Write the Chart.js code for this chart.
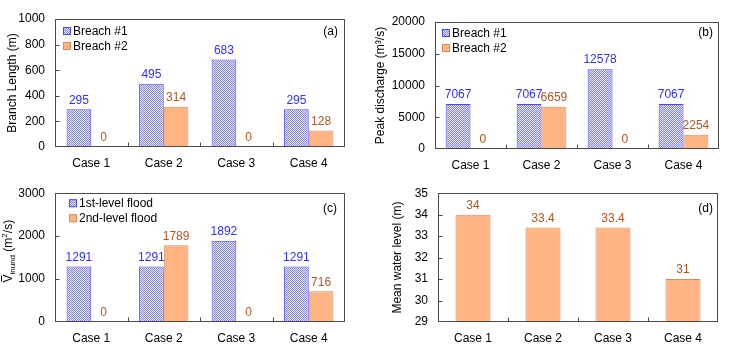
<!DOCTYPE html>
<html><head><meta charset="utf-8">
<script src="https://cdn.jsdelivr.net/npm/chart.js@4.4.0/dist/chart.umd.min.js"></script>
<style>
html,body{margin:0;padding:0;background:#fff;width:730px;height:352px;overflow:hidden}
.p{position:absolute;width:365px;height:176px}
canvas{display:block}
</style></head><body>
<div class="p" style="left:0;top:0"><canvas id="ca" width="365" height="176"></canvas></div>
<div class="p" style="left:365px;top:0"><canvas id="cb" width="365" height="176"></canvas></div>
<div class="p" style="left:0;top:176px"><canvas id="cc" width="365" height="176"></canvas></div>
<div class="p" style="left:365px;top:176px"><canvas id="cd" width="365" height="176"></canvas></div>
<script>
// ---- data ----
const cases = ['Case 1', 'Case 2', 'Case 3', 'Case 4'];
const branchBreach1 = [295, 495, 683, 295];
const branchBreach2 = [0, 314, 0, 128];
const peakBreach1 = [7067, 7067, 12578, 7067];
const peakBreach2 = [0, 6659, 0, 2254];
const flood1st = [1291, 1291, 1892, 1291];
const flood2nd = [0, 1789, 0, 716];
const meanWaterLevel = [34, 33.4, 33.4, 31];
const ticksA = [0, 200, 400, 600, 800, 1000];
const ticksB = [0, 5000, 10000, 15000, 20000];
const ticksC = [0, 1000, 2000, 3000];
const ticksD = [29, 30, 31, 32, 33, 34, 35];
const seriesNamesAB = ['Breach #1', 'Breach #2'];
const seriesNamesC = ['1st-level flood', '2nd-level flood'];

Chart.defaults.font.family = '"Liberation Sans", Arial, sans-serif';
Chart.defaults.font.size = 12;
Chart.defaults.color = '#000';

const BLUE_TXT = '#2f2fff', BROWN_TXT = '#b0561f';
const ORANGE = '#ffb482', ORANGE_BORDER = '#d98b5f', BLUE_BORDER = '#4646ff';
function makePattern() {
  const c = document.createElement('canvas'); c.width = 2; c.height = 2;
  const g = c.getContext('2d');
  g.fillStyle = '#e6e6ff'; g.fillRect(0, 0, 2, 2);
  g.fillStyle = '#8484f0'; g.fillRect(0, 0, 1, 1); g.fillRect(1, 1, 1, 1);
  return g.createPattern(c, 'repeat');
}
const HATCH = makePattern();

const deco = {
  id: 'deco',
  afterDatasetsDraw(chart, args, o) {
    const ctx = chart.ctx, a = chart.chartArea;
    const ys = chart.scales.y, xs = chart.scales.x;
    ctx.save();
    // value labels
    ctx.font = '12px "Liberation Sans", Arial, sans-serif';
    ctx.textAlign = 'center'; ctx.textBaseline = 'middle';
    chart.data.datasets.forEach((ds, di) => {
      const meta = chart.getDatasetMeta(di);
      meta.data.forEach((bar, i) => {
        ctx.fillStyle = o.valueColors[di];
        ctx.fillText(String(ds.data[i]), bar.x, bar.y - 9);
      });
    });
    // frame
    ctx.strokeStyle = '#4a4a4a'; ctx.lineWidth = 1;
    const L = Math.round(a.left) + 0.5, R = Math.round(a.right) - 0.5, T = Math.round(a.top) + 0.5, B = Math.round(a.bottom) - 0.5;
    ctx.strokeRect(L, T, R - L, B - T);
    ctx.beginPath();
    o.yTicks.forEach(v => {
      const y = Math.round(ys.getPixelForValue(v)) + 0.5;
      ctx.moveTo(L, y); ctx.lineTo(L + 4, y);
    });
    for (let i = 1; i < chart.data.labels.length; i++) {
      const x = Math.round((xs.getPixelForValue(i - 1) + xs.getPixelForValue(i)) / 2) + 0.5;
      ctx.moveTo(x, B); ctx.lineTo(x, B - 4);
    }
    ctx.stroke();
    // panel label
    ctx.fillStyle = '#000'; ctx.textAlign = 'right';
    ctx.fillText(o.tag, a.right - o.tagDx, a.top + o.tagDy);
    // legend
    if (o.legend) {
      ctx.textAlign = 'left';
      o.legend.forEach((it, k) => {
        const cy = a.top + o.legDy + k * 15;
        const bx = a.left + o.legDx;
        ctx.fillStyle = it.fill; ctx.fillRect(bx, cy - 4, 8, 8);
        ctx.strokeStyle = it.border; ctx.strokeRect(bx + 0.5, cy - 3.5, 7, 7);
        ctx.fillStyle = '#000';
        ctx.fillText(it.text, bx + 10, cy + 0.5);
      });
    }
    // custom y title
    if (o.customTitle) {
      ctx.save();
      ctx.translate(o.customTitle.x, a.top + o.customTitle.cy);
      ctx.rotate(-Math.PI / 2);
      ctx.textAlign = 'left'; ctx.textBaseline = 'middle'; ctx.fillStyle = '#000';
      const big = '12px "Liberation Sans", Arial, sans-serif', small = '8px "Liberation Sans", Arial, sans-serif';
      const parts = [['V', big, 0], ['inund', small, 4], [' (m', big, 0], ['2', small, -4], ['/s)', big, 0]];
      let total = 0;
      parts.forEach(p => { ctx.font = p[1]; total += ctx.measureText(p[0]).width; });
      let x = -total / 2;
      parts.forEach((p, idx) => {
        ctx.font = p[1];
        ctx.fillText(p[0], x, p[2]);
        const w = ctx.measureText(p[0]).width;
        if (idx === 0) {
          ctx.strokeStyle = '#000'; ctx.lineWidth = 1;
          ctx.beginPath(); ctx.moveTo(x + 1, -7.5); ctx.lineTo(x + w - 1, -7.5); ctx.stroke();
        }
        x += w;
      });
      ctx.restore();
    }
    ctx.restore();
  }
};

function makeChart(id, cfg) {
  const datasets = cfg.series.map(s => ({
    label: s.label, data: s.data,
    backgroundColor: s.kind === 'blue' ? HATCH : ORANGE,
    borderColor: s.kind === 'blue' ? BLUE_BORDER : ORANGE_BORDER,
    borderWidth: 1,
    categoryPercentage: cfg.catPct, barPercentage: 1
  }));
  return new Chart(document.getElementById(id), {
    type: 'bar',
    data: { labels: cases, datasets },
    plugins: [deco],
    options: {
      responsive: false, animation: false, devicePixelRatio: 1,
      layout: { padding: { left: 0, right: cfg.R, top: cfg.T, bottom: 0 } },
      plugins: {
        legend: { display: false }, tooltip: { enabled: false },
        deco: cfg.deco
      },
      scales: {
        x: {
          grid: { display: false, drawTicks: false }, border: { display: false },
          ticks: { padding: 9, color: '#000', font: { size: 12 } },
          afterFit(s) { s.height = cfg.xH; }
        },
        y: {
          min: cfg.ticks[0], max: cfg.ticks[cfg.ticks.length - 1],
          grid: { display: false, drawTicks: false }, border: { display: false },
          ticks: { stepSize: cfg.ticks[1] - cfg.ticks[0], padding: 10, color: '#000', font: { size: 12 },
            callback: v => String(v) },
          title: cfg.title ? { display: true, text: cfg.title, color: '#000', font: { size: 12 }, padding: { top: cfg.titlePad, bottom: 0 } } : { display: false },
          afterFit(s) { s.width = cfg.L; }
        }
      }
    }
  });
}

makeChart('ca', {
  series: [{ label: seriesNamesAB[0], data: branchBreach1, kind: 'blue' }, { label: seriesNamesAB[1], data: branchBreach2, kind: 'orange' }],
  catPct: 0.68, L: 55, R: 20, T: 19, xH: 29, ticks: ticksA, title: 'Branch Length (m)', titlePad: 5,
  deco: { valueColors: [BLUE_TXT, BROWN_TXT], yTicks: ticksA.slice(1, -1), tag: '(a)', tagDx: 7, tagDy: 13,
    legend: [{ text: seriesNamesAB[0], fill: HATCH, border: BLUE_BORDER }, { text: seriesNamesAB[1], fill: ORANGE, border: ORANGE_BORDER }], legDx: 8, legDy: 12 }
});
makeChart('cb', {
  series: [{ label: seriesNamesAB[0], data: peakBreach1, kind: 'blue' }, { label: seriesNamesAB[1], data: peakBreach2, kind: 'orange' }],
  catPct: 0.70, L: 70, R: 11, T: 22, xH: 27, ticks: ticksB, title: 'Peak discharge (m³/s)', titlePad: 8,
  deco: { valueColors: [BLUE_TXT, BROWN_TXT], yTicks: ticksB.slice(1, -1), tag: '(b)', tagDx: 6, tagDy: 11,
    legend: [{ text: seriesNamesAB[0], fill: HATCH, border: BLUE_BORDER }, { text: seriesNamesAB[1], fill: ORANGE, border: ORANGE_BORDER }], legDx: 7, legDy: 11 }
});
makeChart('cc', {
  series: [{ label: seriesNamesC[0], data: flood1st, kind: 'blue' }, { label: seriesNamesC[1], data: flood2nd, kind: 'orange' }],
  catPct: 0.68, L: 55, R: 20, T: 17, xH: 30, ticks: ticksC, title: null,
  deco: { valueColors: [BLUE_TXT, BROWN_TXT], yTicks: ticksC.slice(1, -1), tag: '(c)', tagDx: 8, tagDy: 15,
    legend: [{ text: seriesNamesC[0], fill: HATCH, border: BLUE_BORDER }, { text: seriesNamesC[1], fill: ORANGE, border: ORANGE_BORDER }], legDx: 14, legDy: 10,
    customTitle: { x: 9, cy: 58 } }
});
makeChart('cd', {
  series: [{ label: 'Mean water level', data: meanWaterLevel, kind: 'orange' }],
  catPct: 0.5, L: 73, R: 12, T: 17, xH: 30, ticks: ticksD, title: 'Mean water level (m)', titlePad: 25,
  deco: { valueColors: [BROWN_TXT], yTicks: ticksD.slice(1, -1), tag: '(d)', tagDx: 5, tagDy: 15 }
});
</script>
</body></html>
